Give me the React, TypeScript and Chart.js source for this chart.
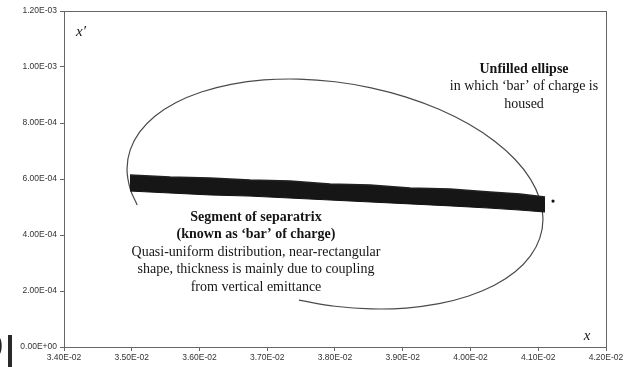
import React, { useEffect, useRef } from "react";
import { Chart, registerables } from "chart.js";

Chart.register(...registerables);

// Tick settings (x: 3.40E-02 .. 4.20E-02, y: 0 .. 1.20E-03)
const xTicks = { min: 0.034, max: 0.042, step: 0.001 };
const yTicks = { min: 0, max: 0.0012, step: 0.0002 };

// Unfilled ellipse (traced, open at lower-left)
const ellipseX = [
  0.03508, 0.034977, 0.03493, 0.034977, 0.035115, 0.035341, 0.035648, 0.036027,
  0.036465, 0.03695, 0.037467, 0.038, 0.038533, 0.03905, 0.039535, 0.039973,
  0.040352, 0.040659, 0.040885, 0.041023, 0.04107, 0.041023, 0.040885, 0.040659,
  0.040352, 0.039973, 0.039535, 0.03905, 0.038533, 0.038, 0.037467,
];
const ellipseY = [
  5.0747e-4, 5.6477e-4, 6.3572e-4, 7.0395e-4, 7.6744e-4, 8.2421e-4, 8.7252e-4, 9.1091e-4,
  9.3825e-4, 9.5369e-4, 9.5673e-4, 9.4732e-4, 9.2573e-4, 8.9261e-4, 8.4895e-4, 7.9611e-4,
  7.3572e-4, 6.6955e-4, 5.9962e-4, 5.2809e-4, 4.5714e-4, 3.8891e-4, 3.2542e-4, 2.6865e-4,
  2.2034e-4, 1.8195e-4, 1.5461e-4, 1.3917e-4, 1.3613e-4, 1.4554e-4, 1.6713e-4,
];

// "Bar" of charge: upper and lower edges of the dense particle band
const barX = [
  0.034974, 0.035565, 0.036155, 0.036745, 0.037336, 0.037926, 0.038517, 0.039107,
  0.039697, 0.040288, 0.040731, 0.0411,
];
const barUpper = [
  6.14e-4, 6.07e-4, 6.04e-4, 5.96e-4, 5.93e-4, 5.82e-4, 5.79e-4, 5.68e-4,
  5.64e-4, 5.54e-4, 5.46e-4, 5.36e-4,
];
const barLower = [
  5.57e-4, 5.5e-4, 5.43e-4, 5.39e-4, 5.32e-4, 5.25e-4, 5.18e-4, 5.11e-4,
  5.04e-4, 4.96e-4, 4.89e-4, 4.82e-4,
];

// Isolated particle outside the bar
const strayX = [0.041218];
const strayY = [5.21e-4];

// Annotation texts
const ellipseLabel = ["Unfilled ellipse", "in which \u2018bar\u2019 of charge is", "housed"];
const barLabel = [
  "Segment of separatrix",
  "(known as \u2018bar\u2019 of charge)",
  "Quasi-uniform distribution, near-rectangular",
  "shape, thickness is mainly due to coupling",
  "from vertical emittance",
];
const yAxisTitle = "x\u2032";
const xAxisTitle = "x";

function sci(v: number): string {
  if (Math.abs(v) < 1e-12) return "0.00E+00";
  const [m, e] = v.toExponential(2).split("e");
  const n = parseInt(e, 10);
  return m + "E" + (n < 0 ? "-" : "+") + String(Math.abs(n)).padStart(2, "0");
}

const SERIF = "'Liberation Serif', 'Times New Roman', serif";
const SANS = "'Liberation Sans', Arial, sans-serif";

const annotationPlugin = {
  id: "annotations",
  afterDraw(chart: any) {
    const { ctx, chartArea, scales } = chart;
    const xs = scales.x;
    const ys = scales.y;
    ctx.save();
    // frame
    ctx.strokeStyle = "#666";
    ctx.lineWidth = 1;
    ctx.strokeRect(
      Math.round(chartArea.left) + 0.5,
      Math.round(chartArea.top) + 0.5,
      Math.round(chartArea.right - chartArea.left),
      Math.round(chartArea.bottom - chartArea.top)
    );
    ctx.fillStyle = "#151515";
    ctx.textAlign = "center";
    ctx.textBaseline = "middle";
    // axis symbols
    ctx.font = `italic 15px ${SERIF}`;
    ctx.fillText(yAxisTitle, xs.getPixelForValue(0.034251), ys.getPixelForValue(1.125e-3));
    ctx.fillText(xAxisTitle, xs.getPixelForValue(0.04172), ys.getPixelForValue(3.9e-5));
    // ellipse label
    const lh = 17.5;
    let cx = xs.getPixelForValue(0.04079);
    let cy = ys.getPixelForValue(9.93e-4);
    ellipseLabel.forEach((t, i) => {
      ctx.font = `${i === 0 ? "bold " : ""}14px ${SERIF}`;
      ctx.fillText(t, cx, cy + i * lh);
    });
    // bar label
    cx = xs.getPixelForValue(0.036834);
    cy = ys.getPixelForValue(4.64e-4);
    barLabel.forEach((t, i) => {
      ctx.font = `${i < 2 ? "bold " : ""}14px ${SERIF}`;
      ctx.fillText(t, cx, cy + i * lh);
    });
    ctx.restore();
  },
};

export default function App() {
  const ref = useRef<HTMLCanvasElement | null>(null);

  useEffect(() => {
    if (!ref.current) return;
    const toPts = (xs: number[], ys: number[]) => xs.map((x, i) => ({ x, y: ys[i] }));
    const chart = new Chart(ref.current, {
      type: "scatter",
      data: {
        datasets: [
          {
            label: "bar lower",
            data: toPts(barX, barLower),
            showLine: true,
            borderColor: "#111",
            borderWidth: 1,
            pointRadius: 0,
            fill: false,
            tension: 0,
          } as any,
          {
            label: "bar upper",
            data: toPts(barX, barUpper),
            showLine: true,
            borderColor: "#222",
            borderWidth: 1.5,
            backgroundColor: "#161616",
            pointRadius: 0,
            fill: "-1",
            tension: 0,
          } as any,
          {
            label: "ellipse",
            data: toPts(ellipseX, ellipseY),
            showLine: true,
            borderColor: "#4a4a4a",
            borderWidth: 1.2,
            pointRadius: 0,
            fill: false,
            tension: 0.4,
          } as any,
          {
            label: "stray",
            data: toPts(strayX, strayY),
            pointRadius: 1.6,
            pointBackgroundColor: "#111",
            pointBorderWidth: 0,
          } as any,
        ],
      },
      options: {
        responsive: false,
        animation: false,
        events: [],
        layout: { padding: { top: 11, right: 22, left: 0, bottom: 0 } },
        plugins: {
          legend: { display: false },
          tooltip: { enabled: false },
          title: { display: false },
        },
        scales: {
          x: {
            type: "linear",
            min: xTicks.min,
            max: xTicks.max,
            afterFit: (s: any) => {
              s.height = 20;
            },
            border: { display: true, color: "#666" },
            grid: { display: true, drawOnChartArea: false, drawTicks: true, tickLength: 4, color: "#666" },
            ticks: {
              stepSize: xTicks.step,
              padding: 2,
              color: "#333",
              font: { family: SANS, size: 8.5 },
              maxRotation: 0,
              autoSkip: false,
              callback: (v: any) => sci(Number(v)),
            },
          },
          y: {
            type: "linear",
            min: yTicks.min,
            max: yTicks.max,
            afterFit: (s: any) => {
              s.width = 64;
            },
            border: { display: true, color: "#666" },
            grid: { display: true, drawOnChartArea: false, drawTicks: true, tickLength: 4, color: "#666" },
            ticks: {
              stepSize: yTicks.step,
              padding: 3,
              color: "#333",
              font: { family: SANS, size: 8.5 },
              autoSkip: false,
              callback: (v: any) => sci(Number(v)),
            },
          },
        },
      },
      plugins: [annotationPlugin],
    });
    return () => chart.destroy();
  }, []);

  return (
    <div style={{ position: "absolute", left: 0, top: 0, width: 628, height: 367, overflow: "hidden", background: "#fff" }}>
      <canvas ref={ref} width={628} height={367} style={{ position: "absolute", left: 0, top: 0 }} />
      <div
        style={{
          position: "absolute",
          left: -7,
          top: 325,
          fontFamily: SERIF,
          fontSize: 30,
          lineHeight: "36px",
          color: "#222",
        }}
      >
        )
      </div>
      <div style={{ position: "absolute", left: 8, top: 335, width: 4, height: 32, background: "#2a2a2a" }} />
    </div>
  );
}
